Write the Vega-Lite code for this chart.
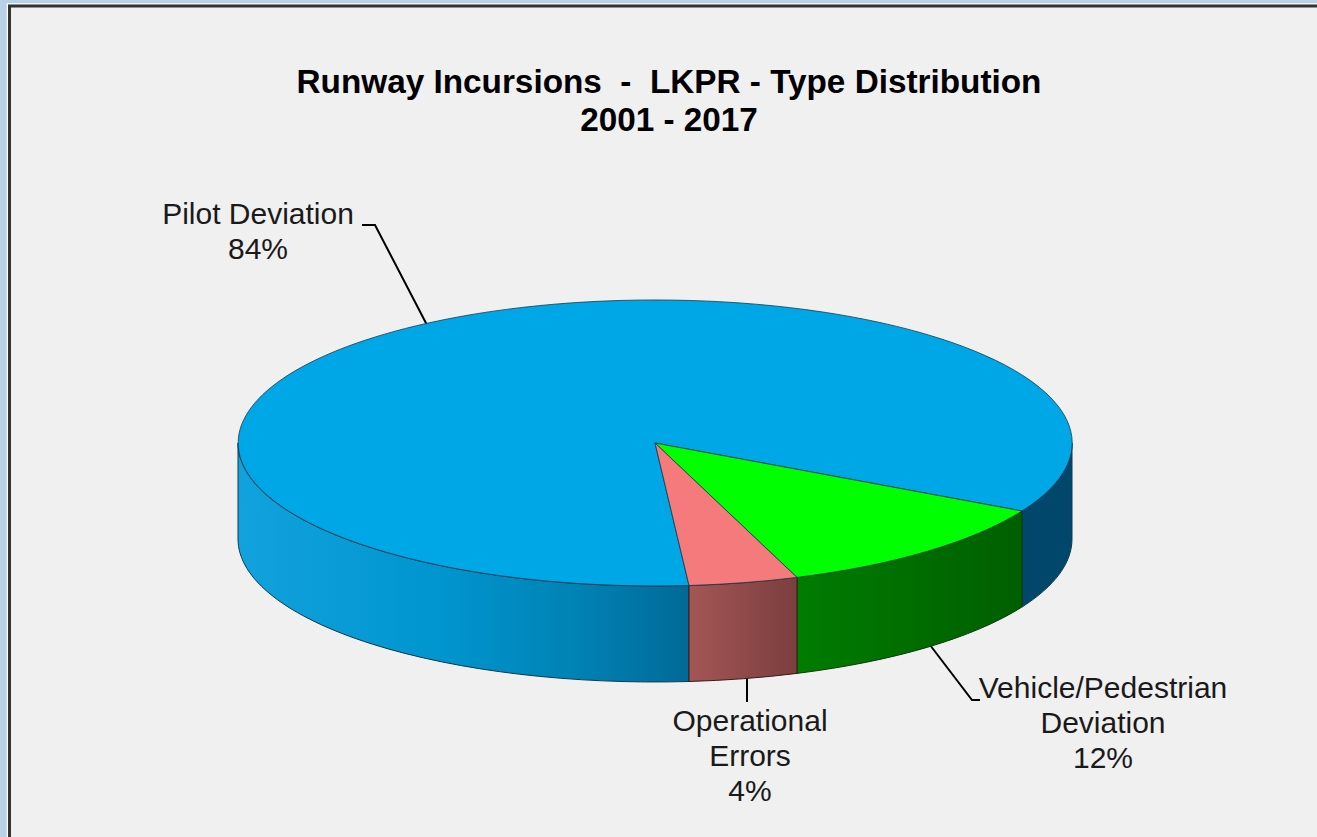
{
"$schema":"https://vega.github.io/schema/vega-lite/v6.json",
"width":1308,"height":832,"autosize":"none",
"padding":{"left":9,"top":5,"right":0,"bottom":0},
"background":"#b9d1e6",
"view":{"fill":"#f0f0f0","stroke":null},
"title":{"text":["Runway Incursions\u00a0\u00a0-\u00a0\u00a0LKPR - Type Distribution","2001 - 2017"],"font":"Liberation Sans","fontSize":33.3,"fontWeight":"bold","color":"#000000","anchor":"middle","frame":"group","baseline":"top","offset":0,"dx":6,"dy":138,"lineHeight":38},
"data":{"values":[
{"type":"Pilot Deviation","share":84,"label":"Pilot Deviation\n84%"},
{"type":"Vehicle/Pedestrian Deviation","share":12,"label":"Vehicle/Pedestrian\nDeviation\n12%"},
{"type":"Operational Errors","share":4,"label":"Operational\nErrors\n4%"}
]},
"resolve":{"scale":{"shape":"independent","color":"independent"}},
"layer":[
{"transform":[{"filter":"datum.share==84"}],"mark":{"type":"point","size":4,"opacity":1,"filled":false,"fill":null,"stroke":"#ffffff","strokeWidth":1.5,"shape":"M-655.5 416 L-655.5 -417 L654 -417"}},
{"transform":[{"filter":"datum.share==84"}],"mark":{"type":"point","size":4,"opacity":1,"filled":false,"fill":null,"stroke":"#333333","strokeWidth":3,"shape":"M-653.5 416 L-653.5 -415 L654 -415"}},
{"mark":{"type":"point","size":4,"opacity":1,"filled":false,"fill":null,"stroke":"#000000","strokeWidth":2},
 "encoding":{"shape":{"field":"type","type":"nominal","legend":null,"scale":{"domain":["Pilot Deviation","Vehicle/Pedestrian Deviation","Operational Errors"],"range":["M-301 -196 L-288 -196 L-236 -96","M267 224 L309 279 L317 279","M84 256 L84 281"]}}}},
{"transform":[{"filter":"datum.share==84"}],"mark":{"type":"point","size":4,"opacity":1,"filled":true,"strokeWidth":1,"stroke":"#10384c","fill":{"gradient":"linear","x1":0,"y1":0,"x2":1,"y2":0,"stops":[{"offset":0,"color":"#12a2de"},{"offset":0.45,"color":"#0095cf"},{"offset":0.75,"color":"#0082b4"},{"offset":1,"color":"#006a98"}]},"shape":"M-425 22 A417 143 0 0 0 26 164.5 L26 260.5 A417 143 0 0 1 -425 118 Z"}},
{"transform":[{"filter":"datum.share==84"}],"mark":{"type":"point","size":4,"opacity":1,"filled":true,"strokeWidth":1,"stroke":"#10384c","fill":"#00476b","shape":"M359 90 A417 143 0 0 0 409 22 L409 118 A417 143 0 0 1 359 186 Z"}},
{"transform":[{"filter":"datum.share==12"}],"mark":{"type":"point","size":4,"opacity":1,"filled":true,"strokeWidth":1,"stroke":"#0a3a0a","fill":{"gradient":"linear","x1":0,"y1":0,"x2":1,"y2":0,"stops":[{"offset":0,"color":"#007c00"},{"offset":1,"color":"#005f00"}]},"shape":"M134 156.4 A417 143 0 0 0 359 90 L359 186 A417 143 0 0 1 134 252.4 Z"}},
{"transform":[{"filter":"datum.share==4"}],"mark":{"type":"point","size":4,"opacity":1,"filled":true,"strokeWidth":1,"stroke":"#3a1a1a","fill":{"gradient":"linear","x1":0,"y1":0,"x2":1,"y2":0,"stops":[{"offset":0,"color":"#a45656"},{"offset":1,"color":"#7b3e3e"}]},"shape":"M26 164.5 A417 143 0 0 0 134 156.4 L134 252.4 A417 143 0 0 1 26 260.5 Z"}},
{"mark":{"type":"point","size":4,"opacity":1,"filled":true,"strokeWidth":1,"stroke":"#123a4e","strokeOpacity":0.8},
 "encoding":{
  "shape":{"field":"type","type":"nominal","legend":null,"scale":{"domain":["Pilot Deviation","Vehicle/Pedestrian Deviation","Operational Errors"],"range":["M-8 22 L26 164.5 A417 143 0 1 1 359 90 Z","M-8 22 L359 90 A417 143 0 0 1 134 156.4 Z","M-8 22 L134 156.4 A417 143 0 0 1 26 164.5 Z"]}},
  "color":{"field":"type","type":"nominal","legend":null,"scale":{"domain":["Pilot Deviation","Vehicle/Pedestrian Deviation","Operational Errors"],"range":["#00a7e6","#00ff00","#f47a7c"]}}
 }},
{"mark":{"type":"text","font":"Liberation Sans","fontSize":30,"color":"#1a1a1a","align":"center","baseline":"middle","lineBreak":"\n","lineHeight":35},
 "encoding":{
  "text":{"field":"label","type":"nominal"},
  "x":{"field":"share","type":"quantitative","axis":null,"scale":{"type":"linear","zero":false,"nice":false,"domain":[4,12,84],"range":[741,1094,249]}},
  "y":{"field":"share","type":"quantitative","axis":null,"scale":{"type":"linear","zero":false,"nice":false,"domain":[4,12,84],"range":[717,684,210]}}
 }}
]
}
